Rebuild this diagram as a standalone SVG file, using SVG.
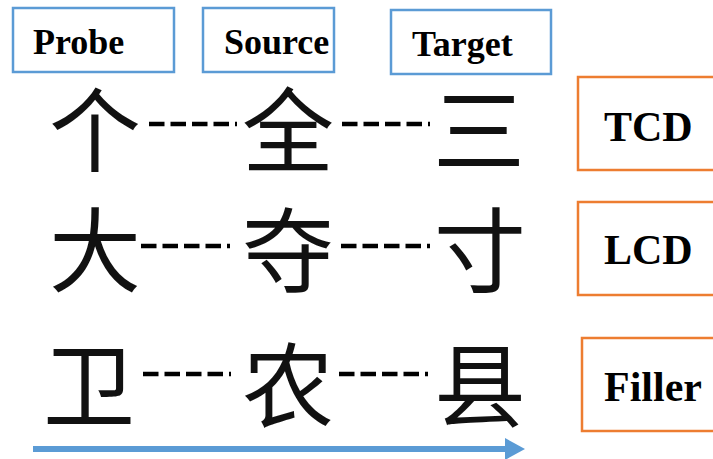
<svg xmlns="http://www.w3.org/2000/svg" width="713" height="459" viewBox="0 0 713 459">
<style>
.hb{fill:#fff;stroke:#5B9BD5;stroke-width:2.5}
.ob{fill:#fff;stroke:#ED7D31;stroke-width:2.5}
.lbl{font-family:"Liberation Serif","Times New Roman",serif;font-weight:bold;fill:#000}
.h{font-size:36px}
.c{font-size:42px}
.cjk{font-family:"Noto Sans CJK SC","Noto Sans CJK JP",sans-serif;font-size:92px;fill:#111;text-anchor:middle}
.d{stroke:#000;stroke-width:4.5;stroke-dasharray:15.5 6;fill:none}
</style>
<rect width="713" height="459" fill="#fff"/>
<g id="probe"><rect class="hb" x="13" y="8" width="161" height="64"/><text class="lbl h" x="33" y="54">Probe</text></g>
<g id="source"><rect class="hb" x="203" y="8" width="131" height="64"/><text class="lbl h" x="224" y="54">Source</text></g>
<g id="target"><rect class="hb" x="391" y="10" width="160" height="64"/><text class="lbl h" x="412" y="56">Target</text></g>
<g id="tcd"><rect class="ob" x="578" y="77" width="140" height="93"/><text class="lbl c" x="604" y="141">TCD</text></g>
<g id="lcd"><rect class="ob" x="578" y="202" width="140" height="93"/><text class="lbl c" x="604" y="264">LCD</text></g>
<g id="filler"><rect class="ob" x="582" y="338" width="136" height="93"/><text class="lbl c" x="604" y="401">Filler</text></g>
<g id="row1">
<text class="cjk" x="95" y="165">个</text>
<text class="cjk" x="288" y="165">全</text>
<text class="cjk" x="479" y="165">三</text>
</g>
<g id="row2">
<text class="cjk" x="95" y="285">大</text>
<text class="cjk" x="288" y="285">夺</text>
<text class="cjk" x="480" y="285">寸</text>
</g>
<g id="row3">
<text class="cjk" x="89" y="420">卫</text>
<text class="cjk" x="288" y="420">农</text>
<text class="cjk" x="480" y="420">县</text>
</g>
<g id="connectors">
<line class="d" x1="149" y1="124" x2="237" y2="124"/>
<line class="d" x1="342" y1="124" x2="430" y2="124"/>
<line class="d" x1="141" y1="246" x2="230" y2="246"/>
<line class="d" x1="341" y1="246" x2="430" y2="246"/>
<line class="d" x1="143" y1="374" x2="231" y2="374"/>
<line class="d" x1="339" y1="374" x2="428" y2="374"/>
<line x1="33" y1="449" x2="507" y2="449" stroke="#5B9BD5" stroke-width="6"/>
<polygon points="505,438 525,449 505,460" fill="#5B9BD5"/>
</g>
</svg>
